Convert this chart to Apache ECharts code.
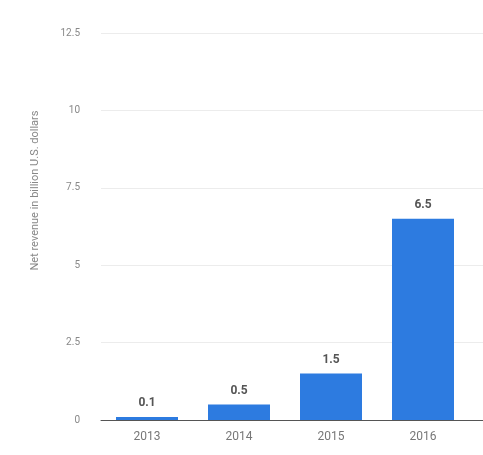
<!DOCTYPE html>
<html style="height: 100%" lang="en">
<head>
    <meta charset="UTF-8">
    <title>Net revenue</title>
</head>
<body style="height: 100%; margin: 0; background: #fff">
<div id="main1" style="width: 483px; height: 455px"></div>

<script src="https://cdn.jsdelivr.net/npm/echarts@6/dist/echarts.min.js"></script>
<script type="text/javascript">

    // years and net revenue (billion U.S. dollars)
    var years = ['2013', '2014', '2015', '2016', '2017'];
    var revenue = [0.1, 0.5, 1.5, 6.5, 7.6];
    var yTicks = [0, 2.5, 5, 7.5, 10, 12.5];

    var myChart1 = echarts.init(document.getElementById('main1'));
    var option = {
        animation: false,
        backgroundColor: '#ffffff',
        grid: {
            left: 101,
            width: 460,
            top: 33,
            bottom: 35,
            outerBoundsMode: 'none',
            containLabel: false
        },
        xAxis: {
            type: 'category',
            data: years,
            axisLine: {lineStyle: {color: '#555', width: 1}},
            axisTick: {show: false},
            axisLabel: {color: '#777', fontSize: 12, margin: 11, fontFamily: 'Roboto'}
        },
        yAxis: {
            type: 'value',
            min: yTicks[0],
            max: yTicks[yTicks.length - 1],
            interval: 2.5,
            name: 'Net revenue in billion U.S. dollars',
            nameLocation: 'middle',
            nameGap: 60,
            nameTextStyle: {color: '#888', fontSize: 11, fontFamily: 'Roboto', padding: [0, 0, 0, 72]},
            axisLine: {show: false},
            axisTick: {show: false},
            splitLine: {lineStyle: {color: '#ececec'}},
            axisLabel: {color: '#888', fontSize: 10, margin: 21, fontFamily: 'Roboto'}
        },
        series: [{
            type: 'bar',
            data: revenue,
            barWidth: 62,
            itemStyle: {color: '#2d7be0'},
            label: {
                show: true,
                position: 'top',
                distance: 8,
                color: '#555',
                fontSize: 12,
                fontWeight: 'bold',
                fontFamily: 'Roboto'
            }
        }]
    };

    myChart1.setOption(option);

</script>
</body>
</html>
